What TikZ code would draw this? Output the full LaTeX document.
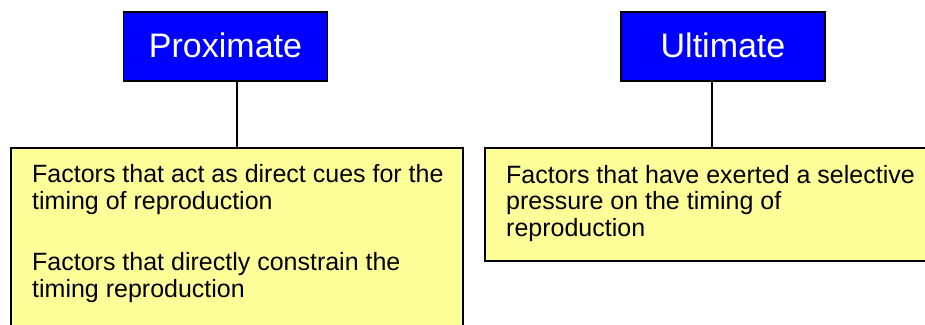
\documentclass[tikz,border=0pt]{standalone}
\usepackage{fontspec}
\setmainfont{Liberation Sans}
\definecolor{headblue}{HTML}{0000FF}
\definecolor{noteyellow}{HTML}{FFFF99}
\begin{document}
\begin{tikzpicture}[x=1pt,y=-1pt,
  head/.style={draw=black, line width=1.8pt, fill=headblue, text=white,
    minimum width=204pt, minimum height=69pt, inner sep=0pt,
    font=\fontsize{34}{40}\selectfont},
  note/.style={draw=black, line width=1.8pt, fill=noteyellow, inner sep=0pt},
  txt/.style={anchor=base west, inner sep=0pt, align=left,
    font=\fontsize{25}{26.5}\selectfont},
  link/.style={draw=black, line width=1.5pt}]
\clip (0,0) rectangle (925,324);
\fill[white] (0,0) rectangle (925,324);
% header boxes
\node[head] (prox) at (225.5,46.5) {\raisebox{3.5pt}{Proximate}};
\node[head] (ult) at (723,46.5) {\raisebox{3.5pt}{Ultimate}};
% note boxes
\node[note, minimum width=452pt, minimum height=200pt] (proxbox) at (237,248) {};
\node[note, minimum width=454pt, minimum height=113pt] (ultbox) at (712,204.5) {};
% connectors
\draw[link] (proxbox.north) -- (proxbox.north |- prox.south);
\draw[link] (ultbox.north) -- (ultbox.north |- ult.south);
% texts (anchor is the baseline of the last line)
\node[txt] (p1) at (32,209) {Factors that act as direct cues for the\\timing of reproduction};
\node[txt] (p2) at (32,297) {Factors that directly constrain the\\timing reproduction};
\node[txt] (u1) at (506,236) {Factors that have exerted a selective\\pressure on the timing of\\reproduction};
\end{tikzpicture}
\end{document}
